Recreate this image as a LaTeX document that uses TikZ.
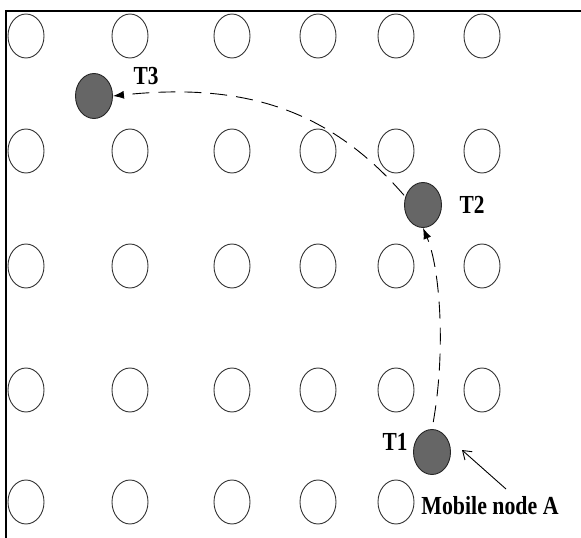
\documentclass[tikz,border=0pt]{standalone}
\usepackage{fontspec}
\setmainfont{Liberation Serif}
\usepackage{graphicx}
\usetikzlibrary{arrows.meta,shapes.geometric}
\begin{document}
\begin{tikzpicture}[x=1pt,y=-1pt,
  sensor/.style={ellipse,draw=black!80,line width=0.9pt,minimum width=36pt,minimum height=44pt,inner sep=0pt},
  mobile/.style={ellipse,draw=black!85,fill=black!60,line width=0.9pt,minimum width=37pt,minimum height=45pt,inner sep=0pt},
  lbl/.style={inner sep=0pt,font=\fontsize{26}{28}\selectfont\bfseries},
  track/.style={line width=0.9pt,dash pattern=on 17pt off 9pt,-{Latex[length=11pt,width=8pt]}},
  frame/.style={line width=2pt}]
\useasboundingbox (0,0) rectangle (581,538);
\coordinate (fa) at (5.5,538);
\coordinate (fb) at (5.5,10.5);
\coordinate (fc) at (581,10.5);
\draw[frame] (fa) -- (fb) -- (fc);
% grid of static nodes
\foreach \r/\y in {1/36,2/151,3/266,4/390}{
  \foreach \c/\x in {1/26,2/130,3/232,4/318,5/396,6/482}{
    \node[sensor] (s\r\c) at (\x,\y) {};
  }
}
\foreach \c/\x in {1/26,2/130,3/232,4/318,5/396}{
  \node[sensor] (s5\c) at (\x,502) {};
}
% mobile node positions
\node[mobile] (t1) at (432,452) {};
\node[mobile] (t2) at (423,205) {};
\node[mobile] (t3) at (94,96) {};
\node[lbl] (l1) at (395,442) {\scalebox{0.82}[1]{T1}};
\node[lbl] (l2) at (472,205) {\scalebox{0.82}[1]{T2}};
\node[lbl] (l3) at (146,76) {\scalebox{0.82}[1]{T3}};
\node[lbl] (la) at (490,506) {\scalebox{0.84}[1]{Mobile node A}};
% tracks
\draw[track,shorten <=7pt] (t1.north) .. controls (446,350) and (440,268) .. (t2.south);
\draw[track,shorten <=2pt] (t2.155) .. controls (330,110) and (245,82) .. (t3.east);
% pointer
\coordinate (pa) at (506,489);
\coordinate (pb) at (462,450);
\draw[line width=0.9pt,-{Straight Barb[length=8pt,width=11pt]}] (pa) -- (pb);
\end{tikzpicture}
\end{document}
